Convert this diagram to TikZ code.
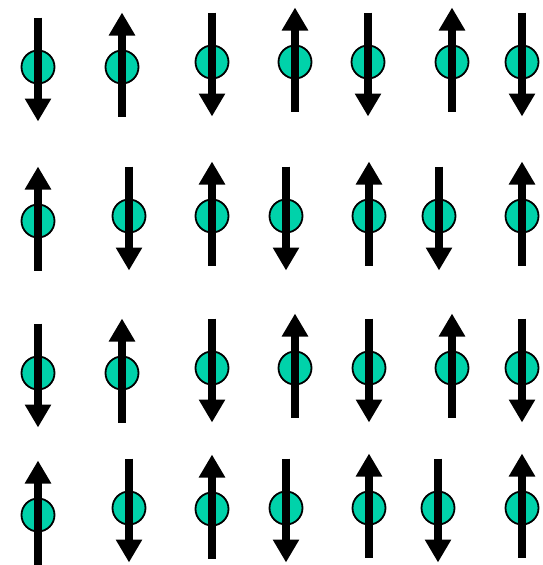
\documentclass[tikz,border=0pt]{standalone}
\usepackage{tikz}
\usetikzlibrary{arrows.meta}
\definecolor{atom}{RGB}{0,210,170}
\tikzset{
  site/.style={circle,draw=black,line width=1.8pt,fill=atom,minimum size=33pt,inner sep=0pt},
  spin/.style={line width=8pt,draw=black,-{Triangle[width=25pt,length=23pt]}},
}
\begin{document}
\begin{tikzpicture}[x=1pt,y=-1pt]
  \useasboundingbox (0,0) rectangle (542,565);
  % lattice sites: x / y / spin (1 up, -1 down)
  \foreach \x/\y/\d [count=\i] in {38/67/-1,122/67/1,212/62/-1,295/62/1,368/62/-1,452/62/1,522/62/-1,
      38/221/1,129/216/-1,212/216/1,286/216/-1,369/216/1,439/216/-1,522/216/1,
      38/373/-1,122/373/1,212/368/-1,295/368/1,369/368/-1,452/368/1,522/368/-1,
      38/515/1,129/508/-1,212/509/1,286/508/-1,369/508/1,438/508/-1,522/508/1}{
    \node[site] (s\i) at (\x,\y) {};
    \draw[spin] ([yshift={-49.5pt*\d}]s\i.center) -- ([yshift={54.5pt*\d}]s\i.center);
  }
\end{tikzpicture}
\end{document}
